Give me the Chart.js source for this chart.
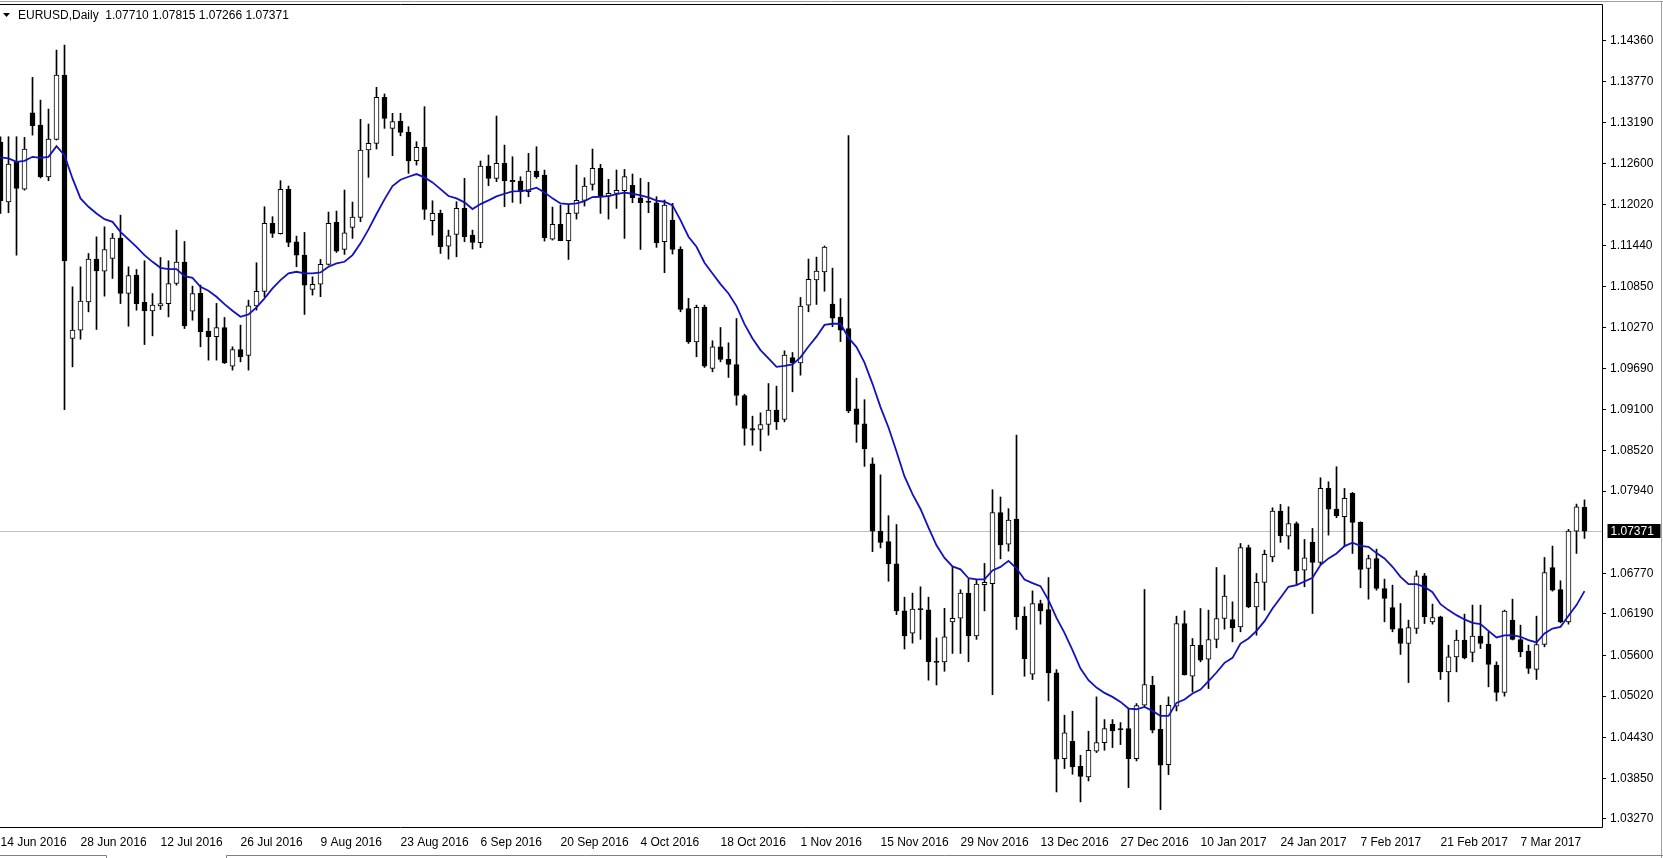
<!DOCTYPE html>
<html>
<head>
<meta charset="utf-8">
<title>EURUSD,Daily</title>
<script src="https://cdn.jsdelivr.net/npm/chart.js@4/dist/chart.umd.min.js"></script>
<style>
  html, body { margin: 0; padding: 0; background: #fff; overflow: hidden; }
  canvas { display: block; }
</style>
</head>
<body>
<canvas class="js-chart" width="1663" height="858"></canvas>
<script>
const symbol = 'EURUSD,Daily';

// daily OHLC, one entry per bar (bar 0 = 14 Jun 2016)
const opens = [
  1.12906, 1.12060, 1.12630, 1.12241, 1.13329, 1.13153, 1.12416, 1.12948, 1.13865, 1.10113,
  1.10232, 1.10635, 1.11243, 1.11072, 1.11253, 1.11542, 1.10754, 1.11015, 1.10630, 1.10507,
  1.10578, 1.10611, 1.10897, 1.11201, 1.10502, 1.10755, 1.10218, 1.10138, 1.10270, 1.09720,
  1.09957, 1.09872, 1.10579, 1.10784, 1.11753, 1.11605, 1.12237, 1.11491, 1.11301, 1.10812,
  1.10888, 1.11168, 1.11767, 1.11382, 1.11696, 1.11838, 1.12798, 1.12893, 1.13548, 1.13106,
  1.13205, 1.13049, 1.12645, 1.12835, 1.11790, 1.11895, 1.11429, 1.11596, 1.11966, 1.11586,
  1.11477, 1.12569, 1.12394, 1.12607, 1.12365, 1.12356, 1.12204, 1.12498, 1.12441, 1.11529,
  1.11738, 1.11505, 1.11895, 1.12080, 1.12308, 1.12536, 1.12142, 1.12180, 1.12218, 1.12294,
  1.12118, 1.12062, 1.12047, 1.11491, 1.11800, 1.11382, 1.10541, 1.10066, 1.10556, 1.09686,
  1.09995, 1.09815, 1.09743, 1.09302, 1.08831, 1.08817, 1.08888, 1.09093, 1.08960, 1.09843,
  1.09767, 1.10589, 1.10946, 1.11062, 1.10603, 1.10413, 1.10255, 1.09110, 1.08899, 1.08329,
  1.07369, 1.07221, 1.06904, 1.06234, 1.05918, 1.06261, 1.06250, 1.05511, 1.05506, 1.06076,
  1.06129, 1.06487, 1.05876, 1.06609, 1.06620, 1.07634, 1.07184, 1.07540, 1.06159, 1.05332,
  1.06339, 1.06254, 1.05351, 1.04130, 1.04377, 1.04021, 1.03869, 1.04235, 1.04358, 1.04619,
  1.04552, 1.04558, 1.04130, 1.04890, 1.05175, 1.04548, 1.04045, 1.04876, 1.06054, 1.05303,
  1.05745, 1.05546, 1.05826, 1.06126, 1.06111, 1.06007, 1.07137, 1.06292, 1.06639, 1.07004,
  1.07655, 1.07299, 1.07479, 1.06814, 1.07209, 1.06924, 1.07978, 1.07684, 1.07574, 1.07907,
  1.07494, 1.06838, 1.06980, 1.06553, 1.06282, 1.05983, 1.05770, 1.05983, 1.06734, 1.06078,
  1.06150, 1.05366, 1.05580, 1.05817, 1.05641, 1.05874, 1.05760, 1.05461, 1.05071, 1.06102,
  1.05827, 1.05660, 1.05399, 1.05755, 1.06852, 1.06539, 1.06078, 1.07370, 1.07710
];
const highs = [
  1.12987, 1.12987, 1.12987, 1.12977, 1.13832, 1.13509, 1.13381, 1.14221, 1.14293, 1.10849,
  1.11134, 1.11324, 1.11561, 1.11704, 1.11609, 1.11870, 1.11134, 1.11096, 1.11220, 1.10754,
  1.11267, 1.11220, 1.11656, 1.11495, 1.10859, 1.10874, 1.10399, 1.10613, 1.10413, 1.09995,
  1.10304, 1.10660, 1.11192, 1.11990, 1.11848, 1.12361, 1.12285, 1.11572, 1.11624, 1.10992,
  1.11240, 1.11914, 1.11928, 1.12228, 1.12057, 1.13235, 1.13168, 1.13691, 1.13596, 1.13320,
  1.13320, 1.13130, 1.12916, 1.13415, 1.12075, 1.11942, 1.11657, 1.12061, 1.12394, 1.11657,
  1.12641, 1.12726, 1.13282, 1.12868, 1.12702, 1.12417, 1.12750, 1.12845, 1.12512, 1.11985,
  1.12014, 1.12014, 1.12584, 1.12403, 1.12812, 1.12593, 1.12380, 1.12513, 1.12522, 1.12456,
  1.12394, 1.12337, 1.12133, 1.12085, 1.12038, 1.11420, 1.10684, 1.10589, 1.10589, 1.10081,
  1.10270, 1.10052, 1.10399, 1.09320, 1.09007, 1.09055, 1.09472, 1.09435, 1.09938, 1.09914,
  1.10698, 1.11245, 1.11273, 1.11431, 1.11115, 1.10682, 1.13003, 1.09548, 1.09242, 1.08413,
  1.08171, 1.07590, 1.07464, 1.06429, 1.06487, 1.06577, 1.06429, 1.05849, 1.06271, 1.06867,
  1.06535, 1.06683, 1.06683, 1.06910, 1.07960, 1.07856, 1.07690, 1.08737, 1.06291, 1.06519,
  1.06387, 1.06709, 1.05398, 1.04748, 1.04805, 1.04178, 1.04520, 1.05009, 1.04686, 1.04686,
  1.04643, 1.04843, 1.04914, 1.06539, 1.05303, 1.04890, 1.05009, 1.06159, 1.06235, 1.05840,
  1.06268, 1.06244, 1.06852, 1.06743, 1.06363, 1.07194, 1.07171, 1.06767, 1.07099, 1.07703,
  1.07750, 1.07717, 1.07500, 1.07251, 1.07408, 1.08130, 1.08073, 1.08287, 1.07978, 1.07921,
  1.07503, 1.07028, 1.07114, 1.06686, 1.06601, 1.06339, 1.06102, 1.06805, 1.06767, 1.06330,
  1.06159, 1.05746, 1.05960, 1.06188, 1.06316, 1.06316, 1.05936, 1.05508, 1.06245, 1.06401,
  1.06031, 1.05746, 1.06159, 1.06995, 1.07157, 1.06663, 1.07394, 1.07755, 1.07815
];
const lows = [
  1.11894, 1.11904, 1.11300, 1.12226, 1.13010, 1.12400, 1.12360, 1.12940, 1.09101, 1.09709,
  1.10103, 1.10493, 1.10241, 1.10716, 1.10968, 1.10611, 1.10288, 1.10516, 1.10027, 1.10151,
  1.10526, 1.10421, 1.10873, 1.10255, 1.10374, 1.09995, 1.09805, 1.09805, 1.09757, 1.09663,
  1.09781, 1.09663, 1.10518, 1.10708, 1.11553, 1.11600, 1.11420, 1.11135, 1.10456, 1.10731,
  1.10708, 1.11159, 1.11339, 1.11311, 1.11539, 1.11776, 1.12408, 1.12812, 1.13106, 1.12717,
  1.13000, 1.12465, 1.12583, 1.11809, 1.11586, 1.11325, 1.11244, 1.11277, 1.11491, 1.11387,
  1.11406, 1.12289, 1.12346, 1.11990, 1.12052, 1.12037, 1.12132, 1.12394, 1.11501, 1.11515,
  1.11505, 1.11239, 1.11814, 1.11999, 1.12227, 1.11895, 1.11814, 1.11966, 1.11539, 1.12047,
  1.11382, 1.11905, 1.11411, 1.11050, 1.11316, 1.10494, 1.10043, 1.09853, 1.09701, 1.09639,
  1.09781, 1.09558, 1.09164, 1.08594, 1.08594, 1.08513, 1.08736, 1.08817, 1.08926, 1.09354,
  1.09591, 1.10494, 1.10598, 1.10787, 1.10281, 1.10070, 1.09057, 1.08635, 1.08292, 1.07078,
  1.07131, 1.06656, 1.06182, 1.05691, 1.05775, 1.05828, 1.05247, 1.05179, 1.05374, 1.05628,
  1.05628, 1.05511, 1.05828, 1.06234, 1.05040, 1.06975, 1.07085, 1.05969, 1.05303, 1.05256,
  1.06045, 1.04952, 1.03655, 1.03988, 1.03907, 1.03513, 1.03812, 1.04216, 1.04249, 1.04287,
  1.04330, 1.03717, 1.04097, 1.04867, 1.04496, 1.03403, 1.03902, 1.04809, 1.05318, 1.05080,
  1.05508, 1.05128, 1.05708, 1.05974, 1.05793, 1.05936, 1.06278, 1.05888, 1.06244, 1.06933,
  1.07209, 1.07114, 1.06601, 1.06577, 1.06197, 1.06895, 1.07313, 1.07560, 1.07147, 1.07052,
  1.06563, 1.06401, 1.06529, 1.06078, 1.05936, 1.05613, 1.05213, 1.05912, 1.06054, 1.06045,
  1.05257, 1.04938, 1.05366, 1.05550, 1.05508, 1.05698, 1.05152, 1.04952, 1.05019, 1.05820,
  1.05580, 1.05342, 1.05257, 1.05722, 1.06515, 1.06064, 1.06045, 1.07052, 1.07266
];
const closes = [
  1.12075, 1.12597, 1.12250, 1.12811, 1.13143, 1.12416, 1.12953, 1.13865, 1.11219, 1.10232,
  1.10645, 1.11243, 1.11077, 1.11381, 1.11542, 1.10754, 1.11011, 1.10611, 1.10507, 1.10588,
  1.10611, 1.10897, 1.11201, 1.10293, 1.10754, 1.10209, 1.10138, 1.10270, 1.09767, 1.09957,
  1.09853, 1.10579, 1.10784, 1.11753, 1.11610, 1.12237, 1.11482, 1.11301, 1.10874, 1.10883,
  1.11168, 1.11753, 1.11358, 1.11620, 1.11843, 1.12798, 1.12893, 1.13548, 1.13249, 1.13201,
  1.13047, 1.12641, 1.12835, 1.11952, 1.11895, 1.11420, 1.11577, 1.11966, 1.11562, 1.11481,
  1.12569, 1.12394, 1.12607, 1.12360, 1.12346, 1.12204, 1.12498, 1.12417, 1.11548, 1.11738,
  1.11505, 1.11895, 1.12080, 1.12284, 1.12536, 1.12132, 1.12180, 1.12223, 1.12418, 1.12118,
  1.12047, 1.12058, 1.11477, 1.12014, 1.11382, 1.10527, 1.10066, 1.10556, 1.09720, 1.09995,
  1.09815, 1.09743, 1.09302, 1.08831, 1.08808, 1.08888, 1.09093, 1.08926, 1.09876, 1.09767,
  1.10575, 1.10955, 1.11072, 1.11415, 1.10402, 1.10233, 1.09083, 1.08888, 1.08540, 1.07369,
  1.07210, 1.06904, 1.06234, 1.05876, 1.06261, 1.06255, 1.05511, 1.05505, 1.05865, 1.06129,
  1.06487, 1.05876, 1.06614, 1.06640, 1.07634, 1.07172, 1.07526, 1.06149, 1.05555, 1.06339,
  1.06235, 1.05351, 1.04121, 1.04496, 1.04011, 1.03878, 1.04249, 1.04358, 1.04558, 1.04524,
  1.04548, 1.04130, 1.04885, 1.05185, 1.04534, 1.04035, 1.04890, 1.06054, 1.05327, 1.05745,
  1.05532, 1.05826, 1.06126, 1.06444, 1.05993, 1.07137, 1.06292, 1.06639, 1.07038, 1.07655,
  1.07303, 1.07479, 1.06805, 1.06990, 1.06924, 1.07978, 1.07684, 1.07589, 1.07836, 1.07494,
  1.06824, 1.06980, 1.06553, 1.06411, 1.05974, 1.05770, 1.05995, 1.06734, 1.06150, 1.06140,
  1.05366, 1.05580, 1.05817, 1.05565, 1.05874, 1.05770, 1.05470, 1.05071, 1.06230, 1.05827,
  1.05651, 1.05413, 1.05755, 1.06781, 1.06530, 1.06078, 1.07370, 1.07717, 1.07371
];

// moving average line
const maValues = [
  1.12692, 1.12678, 1.12630, 1.12644, 1.12701, 1.12687, 1.12701, 1.12853, 1.12725, 1.12393,
  1.12108, 1.11989, 1.11894, 1.11813, 1.11775, 1.11633, 1.11524, 1.11419, 1.11300, 1.11205,
  1.11120, 1.11101, 1.11101, 1.11001, 1.10977, 1.10850, 1.10793, 1.10708, 1.10603, 1.10508,
  1.10423, 1.10456, 1.10556, 1.10684, 1.10826, 1.10945, 1.11040, 1.11064, 1.11040, 1.11040,
  1.11054, 1.11135, 1.11183, 1.11206, 1.11301, 1.11468, 1.11667, 1.11886, 1.12095, 1.12285,
  1.12375, 1.12417, 1.12455, 1.12408, 1.12337, 1.12241, 1.12142, 1.12109, 1.12052, 1.11957,
  1.12028, 1.12080, 1.12137, 1.12175, 1.12208, 1.12213, 1.12227, 1.12261, 1.12194, 1.12109,
  1.12037, 1.12028, 1.12037, 1.12071, 1.12128, 1.12132, 1.12142, 1.12171, 1.12190, 1.12175,
  1.12152, 1.12123, 1.12076, 1.12061, 1.12009, 1.11800, 1.11563, 1.11420, 1.11192, 1.11040,
  1.10888, 1.10755, 1.10575, 1.10318, 1.10114, 1.09948, 1.09829, 1.09710, 1.09724, 1.09743,
  1.09845, 1.10000, 1.10139, 1.10307, 1.10323, 1.10323, 1.10123, 1.09991, 1.09769, 1.09468,
  1.09136, 1.08846, 1.08503, 1.08149, 1.07896, 1.07685, 1.07421, 1.07168, 1.06989, 1.06867,
  1.06825, 1.06699, 1.06683, 1.06683, 1.06810, 1.06860, 1.06946, 1.06840, 1.06681, 1.06629,
  1.06586, 1.06387, 1.06135, 1.05921, 1.05674, 1.05413, 1.05247, 1.05142, 1.05066, 1.05009,
  1.04938, 1.04843, 1.04833, 1.04866, 1.04810, 1.04738, 1.04738, 1.04924, 1.04971, 1.05057,
  1.05114, 1.05235, 1.05356, 1.05494, 1.05565, 1.05769, 1.05841, 1.05950, 1.06088, 1.06268,
  1.06420, 1.06577, 1.06601, 1.06653, 1.06705, 1.06886, 1.06981, 1.07052, 1.07156, 1.07204,
  1.07161, 1.07147, 1.07057, 1.06981, 1.06862, 1.06719, 1.06615, 1.06615, 1.06577, 1.06501,
  1.06330, 1.06245, 1.06173, 1.06112, 1.06064, 1.06045, 1.05950, 1.05855, 1.05884, 1.05889,
  1.05865, 1.05817, 1.05784, 1.05912, 1.05983, 1.06007, 1.06164, 1.06316, 1.06515
];

// date labels on the time axis, one every 10 bars
const dateLabels = [
  '14 Jun 2016', '28 Jun 2016', '12 Jul 2016', '26 Jul 2016', '9 Aug 2016',
  '23 Aug 2016', '6 Sep 2016', '20 Sep 2016', '4 Oct 2016', '18 Oct 2016',
  '1 Nov 2016', '15 Nov 2016', '29 Nov 2016', '13 Dec 2016', '27 Dec 2016',
  '10 Jan 2017', '24 Jan 2017', '7 Feb 2017', '21 Feb 2017', '7 Mar 2017'
];
const dateBars = [0, 10, 20, 30, 40, 50, 60, 70, 80, 90, 100, 110, 120, 130, 140, 150, 160, 170, 180, 190];

// price axis labels
const priceTicks = [
  1.14360, 1.13770, 1.13190, 1.12600, 1.12020, 1.11440, 1.10850, 1.10270, 1.09690, 1.09100,
  1.08520, 1.07940, 1.06770, 1.06190, 1.05600, 1.05020, 1.04430, 1.03850, 1.03270
];
const priceMin = 1.03156;
const priceMax = 1.14863;

const last = closes.length - 1;
const lastPrice = closes[last];
const fmt = function(v) { return v.toFixed(5); };

const wickData = lows.map((lo, i) => ({ x: i, y: [lo, highs[i]] }));
const bodyData = opens.map((o, i) => {
  let lo = Math.min(o, closes[i]);
  let hi = Math.max(o, closes[i]);
  // a doji still gets a one pixel line
  if (hi - lo < 0.00016) {
    const mid = (hi + lo) / 2;
    lo = mid - 0.00008;
    hi = mid + 0.00008;
  }
  return { x: i, y: [lo, hi] };
});
const bodyColors = opens.map((o, i) => (closes[i] >= o ? '#ffffff' : '#000000'));
const maData = maValues.map((v, i) => ({ x: i, y: v }));

const chartDecor = {
  id: 'chartDecor',
  beforeDatasetsDraw(chart) {
    const { ctx, chartArea, scales } = chart;
    const y = Math.round(scales.y.getPixelForValue(lastPrice)) + 0.5;
    ctx.save();
    ctx.strokeStyle = '#c0c0c0';
    ctx.lineWidth = 1;
    ctx.beginPath();
    ctx.moveTo(0, y);
    ctx.lineTo(chartArea.right, y);
    ctx.stroke();
    ctx.restore();
  },
  afterDraw(chart) {
    const { ctx, chartArea, scales } = chart;
    const right = Math.round(chartArea.right) + 0.5;
    const top = Math.round(chartArea.top) - 0.5;
    const bottom = Math.round(chartArea.bottom) + 0.5;
    ctx.save();

    // window frame
    ctx.lineWidth = 1;
    ctx.strokeStyle = '#a0a0a0';
    ctx.beginPath();
    ctx.moveTo(0, 1.5);
    ctx.lineTo(1663, 1.5);
    ctx.moveTo(1661.5, 1.5);
    ctx.lineTo(1661.5, 858);
    ctx.stroke();

    // chart border
    ctx.strokeStyle = '#000';
    ctx.beginPath();
    ctx.moveTo(0, top);
    ctx.lineTo(right, top);
    ctx.lineTo(right, bottom);
    ctx.lineTo(0, bottom);
    ctx.stroke();

    // tab strip at the bottom
    ctx.strokeStyle = '#808080';
    ctx.beginPath();
    ctx.moveTo(0, 855.5);
    ctx.lineTo(106.5, 855.5);
    ctx.lineTo(106.5, 858);
    ctx.moveTo(226.5, 858);
    ctx.lineTo(226.5, 855.5);
    ctx.lineTo(1663, 855.5);
    ctx.stroke();

    // current price tag
    const py = Math.round(scales.y.getPixelForValue(lastPrice));
    ctx.fillStyle = '#000';
    ctx.fillRect(right + 5, py - 7, 53, 14);
    ctx.fillStyle = '#fff';
    ctx.font = '12px "Liberation Sans", Arial, sans-serif';
    ctx.textBaseline = 'middle';
    ctx.textAlign = 'left';
    ctx.fillText(fmt(lastPrice), right + 8, py + 0.5);

    // header with the last bar's values
    ctx.fillStyle = '#000';
    ctx.beginPath();
    ctx.moveTo(3, 13);
    ctx.lineTo(10, 13);
    ctx.lineTo(6.5, 17);
    ctx.closePath();
    ctx.fill();
    const header = symbol + '  ' + [opens[last], highs[last], lows[last], closes[last]].map(fmt).join(' ');
    ctx.fillText(header, 18, 15.5);
    ctx.restore();
  }
};

const ctx = document.querySelector('.js-chart').getContext('2d');
const chart = new Chart(ctx, {
  type: 'bar',
  data: {
    datasets: [{
      type: 'line',
      label: 'MA',
      data: maData,
      borderColor: 'rgb(18, 18, 190)',
      borderWidth: 1.8,
      pointRadius: 0,
      tension: 0,
      order: 0
    }, {
      label: 'body',
      data: bodyData,
      backgroundColor: bodyColors,
      borderColor: '#000',
      borderWidth: 1,
      borderSkipped: false,
      barThickness: 5,
      grouped: false,
      clip: 0,
      order: 1
    }, {
      label: 'wick',
      data: wickData,
      backgroundColor: '#000',
      borderWidth: 0,
      barThickness: 1,
      grouped: false,
      clip: 0,
      order: 2
    }]
  },
  options: {
    responsive: false,
    devicePixelRatio: 1,
    animation: false,
    layout: { padding: { top: 5, left: 0, right: 0, bottom: 0 } },
    plugins: {
      legend: { display: false },
      tooltip: { enabled: false }
    },
    scales: {
      x: {
        type: 'linear',
        min: -1 / 16,
        max: 200.1875,
        offset: false,
        grid: { display: false, drawTicks: false },
        border: { display: false },
        afterBuildTicks: function(scale) {
          scale.ticks = dateBars.map(v => ({ value: v }));
        },
        afterFit: function(scale) {
          scale.height = 31;
          scale.paddingLeft = 0;
          scale.paddingRight = 0;
        },
        ticks: {
          autoSkip: false,
          maxRotation: 0,
          align: 'start',
          padding: 8,
          color: '#000',
          font: { family: '"Liberation Sans", Arial, sans-serif', size: 12 },
          callback: function(value) {
            const i = dateBars.indexOf(value);
            return i >= 0 ? dateLabels[i] : '';
          }
        }
      },
      y: {
        position: 'right',
        min: priceMin,
        max: priceMax,
        grid: { display: true, drawOnChartArea: false, drawTicks: true, tickLength: 4, color: '#000' },
        border: { display: false },
        afterBuildTicks: function(scale) {
          scale.ticks = priceTicks.map(v => ({ value: v }));
        },
        afterFit: function(scale) {
          scale.width = 61;
          scale.paddingTop = 0;
          scale.paddingBottom = 0;
        },
        ticks: {
          autoSkip: false,
          padding: 4,
          color: '#000',
          font: { family: '"Liberation Sans", Arial, sans-serif', size: 12 },
          callback: function(value) { return fmt(value); }
        }
      }
    }
  },
  plugins: [chartDecor]
});
</script>
</body>
</html>
